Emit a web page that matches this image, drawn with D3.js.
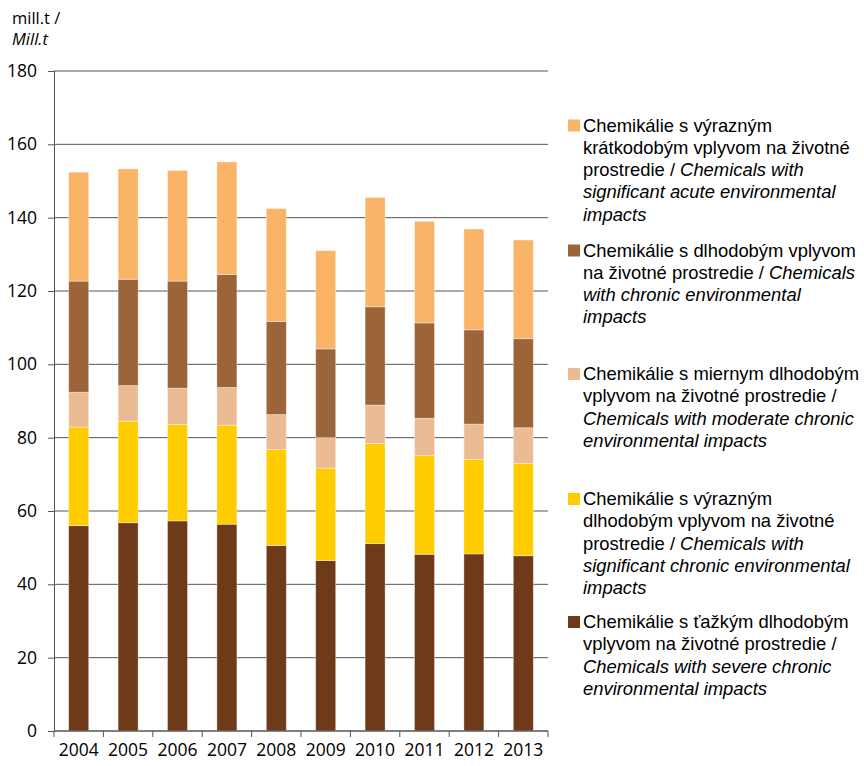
<!DOCTYPE html>
<html>
<head>
<meta charset="utf-8">
<script src="https://cdn.jsdelivr.net/npm/d3@7"></script>
<style>
  body { margin: 0; background: #fff; }
  svg { display: block; }
</style>
</head>
<body>
<div id="chart"></div>
<script>
const years = ["2004", "2005", "2006", "2007", "2008", "2009", "2010", "2011", "2012", "2013"];

// mill.t per year (bottom to top of the stack)
const severe     = [56.0, 56.8, 57.3, 56.4, 50.6, 46.5, 51.1, 48.2, 48.3, 47.8];
const sigChronic = [26.9, 27.7, 26.3, 27.0, 26.2, 25.2, 27.3, 26.9, 25.8, 25.2];
const moderate   = [9.5, 9.7, 9.9, 10.3, 9.5, 8.3, 10.5, 10.2, 9.6, 9.7];
const chronic    = [30.3, 29.0, 29.2, 30.8, 25.4, 24.2, 26.8, 26.0, 25.7, 24.3];
const acute      = [29.7, 30.1, 30.2, 30.7, 30.8, 26.8, 29.8, 27.7, 27.5, 26.9];

const yTicks = [0, 20, 40, 60, 80, 100, 120, 140, 160, 180];

const keys = ["severe", "sigChronic", "moderate", "chronic", "acute"];
const colors = {
  severe: "#6e3a19",
  sigChronic: "#ffcc00",
  moderate: "#ebbc93",
  chronic: "#9c6439",
  acute: "#f9b467"
};

// legend text: [text, italic] pieces per line, listed top to bottom
const legendItems = [
  { key: "acute", lines: [
    [["Chemikálie s výrazným", false]],
    [["krátkodobým vplyvom na životné", false]],
    [["prostredie / ", false], ["Chemicals with", true]],
    [["significant acute environmental", true]],
    [["impacts", true]]
  ]},
  { key: "chronic", lines: [
    [["Chemikálie s dlhodobým vplyvom", false]],
    [["na životné prostredie / ", false], ["Chemicals", true]],
    [["with chronic environmental", true]],
    [["impacts", true]]
  ]},
  { key: "moderate", lines: [
    [["Chemikálie s miernym dlhodobým", false]],
    [["vplyvom na životné prostredie /", false]],
    [["Chemicals with moderate chronic", true]],
    [["environmental impacts", true]]
  ]},
  { key: "sigChronic", lines: [
    [["Chemikálie s výrazným", false]],
    [["dlhodobým vplyvom na životné", false]],
    [["prostredie / ", false], ["Chemicals with", true]],
    [["significant chronic environmental", true]],
    [["impacts", true]]
  ]},
  { key: "severe", lines: [
    [["Chemikálie s ťažkým dlhodobým", false]],
    [["vplyvom na životné prostredie /", false]],
    [["Chemicals with severe chronic", true]],
    [["environmental impacts", true]]
  ]}
];
const legendBaselines = [131.5, 256.5, 380, 505, 628];

const data = years.map((yr, i) => ({
  year: yr,
  severe: severe[i],
  sigChronic: sigChronic[i],
  moderate: moderate[i],
  chronic: chronic[i],
  acute: acute[i]
}));

const width = 864, height = 766;
const plotLeft = 54, plotRight = 548, plotTop = 71, plotBottom = 731;

const svg = d3.select("#chart").append("svg")
  .attr("width", width)
  .attr("height", height);

const x = d3.scaleBand()
  .domain(years)
  .range([plotLeft, plotRight])
  .paddingInner(0.595)
  .paddingOuter(0.2975);

const xCell = d3.scaleBand().domain(years).range([plotLeft, plotRight]);

const y = d3.scaleLinear().domain([0, 180]).range([plotBottom, plotTop]);

// gridlines
svg.append("g")
  .selectAll("line")
  .data(yTicks)
  .join("line")
  .attr("x1", plotLeft)
  .attr("x2", plotRight)
  .attr("y1", d => y(d))
  .attr("y2", d => y(d))
  .attr("stroke", "#555")
  .attr("stroke-width", 1);

// stacked bars
const stack = d3.stack().keys(keys)(data);

svg.append("g")
  .selectAll("g")
  .data(stack)
  .join("g")
  .attr("fill", d => colors[d.key])
  .selectAll("rect")
  .data(d => d)
  .join("rect")
  .attr("x", d => x(d.data.year))
  .attr("width", x.bandwidth())
  .attr("y", d => y(d[1]))
  .attr("height", d => y(d[0]) - y(d[1]))
  .attr("stroke", "rgba(255,255,255,0.45)")
  .attr("stroke-width", 0.8);

// y axis
const yAxis = svg.append("g")
  .attr("transform", `translate(${plotLeft},0)`)
  .call(d3.axisLeft(y).tickValues(yTicks).tickSize(6).tickPadding(11));
yAxis.select(".domain").attr("stroke", "#555").attr("d", `M0.5,${plotTop}V${plotBottom}`);
yAxis.selectAll(".tick line").attr("stroke", "#555");
yAxis.selectAll("text")
  .attr("font-family", "'Open Sans', sans-serif")
  .attr("font-size", 17.5)
  .attr("fill", "#000");

// x axis: labels under bar centres, ticks at the cell boundaries
const xAxis = svg.append("g")
  .attr("transform", `translate(0,${plotBottom})`)
  .call(d3.axisBottom(x).tickSize(0).tickPadding(13));
xAxis.select(".domain").remove();
xAxis.selectAll("text")
  .attr("font-family", "'Open Sans', sans-serif")
  .attr("font-size", 17.5)
  .attr("fill", "#000");

svg.append("line")
  .attr("x1", plotLeft).attr("x2", plotRight)
  .attr("y1", plotBottom).attr("y2", plotBottom)
  .attr("stroke", "#555");

svg.append("g")
  .selectAll("line")
  .data(years.map(d => xCell(d)).concat([plotRight]))
  .join("line")
  .attr("x1", d => d)
  .attr("x2", d => d)
  .attr("y1", plotBottom)
  .attr("y2", plotBottom + 6)
  .attr("stroke", "#555");

// y axis title
const yTitle = svg.append("text")
  .attr("font-family", "'Open Sans', sans-serif")
  .attr("font-size", 16.5)
  .attr("fill", "#000");
yTitle.append("tspan").attr("x", 12).attr("y", 24).text("mill.t /");
yTitle.append("tspan").attr("x", 12).attr("y", 45).attr("font-style", "italic").text("Mill.t");

// legend
const lineGap = 22.3;
const legend = svg.append("g");
legendItems.forEach((item, i) => {
  const base = legendBaselines[i];
  legend.append("rect")
    .attr("x", 568)
    .attr("y", base - 12)
    .attr("width", 12)
    .attr("height", 12)
    .attr("fill", colors[item.key]);
  const t = legend.append("text")
    .attr("font-family", "'Liberation Sans', Arial, sans-serif")
    .attr("font-size", 18.4)
    .attr("fill", "#000");
  item.lines.forEach((parts, j) => {
    parts.forEach((p, k) => {
      const ts = t.append("tspan").text(p[0]);
      if (k === 0) ts.attr("x", 583).attr("y", base + j * lineGap);
      if (p[1]) ts.attr("font-style", "italic");
    });
  });
});
</script>
</body>
</html>
